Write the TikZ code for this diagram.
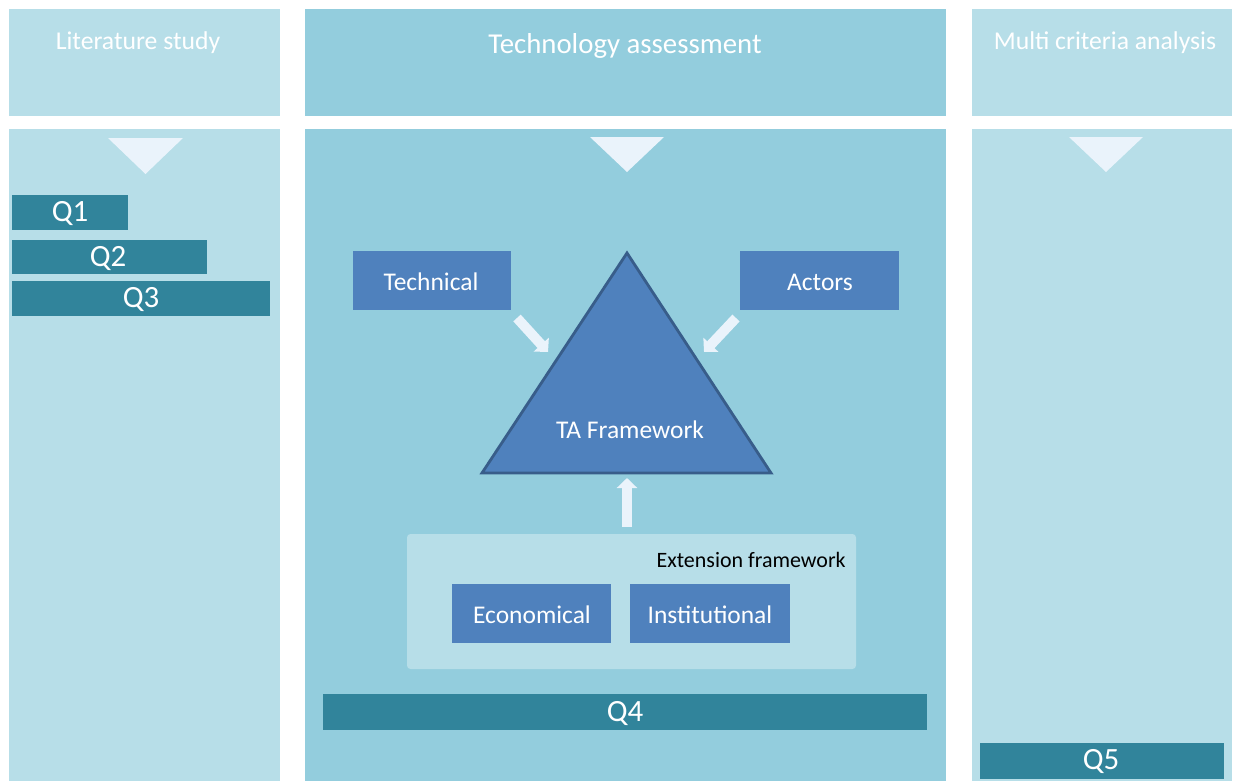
\documentclass[tikz,border=0pt]{standalone}
\usepackage{fontspec}
\setmainfont{Carlito}
\usetikzlibrary{arrows.meta}
\definecolor{colLight}{HTML}{B7DEE8}
\definecolor{colMid}{HTML}{93CDDD}
\definecolor{colQ}{HTML}{31849B}
\definecolor{colBlue}{HTML}{4F81BD}
\definecolor{colEdge}{HTML}{385D8A}
\definecolor{colPale}{HTML}{EAF3FB}
\begin{document}
\begin{tikzpicture}[x=0.02cm,y=-0.02cm,
  hdrtxt/.style={text=white,font=\fontsize{14.6}{17}\selectfont,inner sep=0pt},
  qtxt/.style={text=white,font=\fontsize{17.6}{20}\selectfont,inner sep=0pt},
  boxtxt/.style={text=white,font=\fontsize{14.5}{17}\selectfont,inner sep=0pt},
  blockarrow/.style={draw=colPale,line width=0.2cm,-{Triangle[length=0.2cm,width=0.4cm]}},
  downtri/.style={fill=colPale}]
\useasboundingbox (0,0) rectangle (1234,781);
\fill[white] (0,0) rectangle (1234,781);
% columns
\fill[colLight] (9,9) rectangle (280,116);
\fill[colLight] (9,129) rectangle (280,781);
\fill[colMid] (305,9) rectangle (946,116);
\fill[colMid] (305,129) rectangle (946,781);
\fill[colLight] (972,9) rectangle (1232,116);
\fill[colLight] (972,129) rectangle (1232,781);
% headers
\node[hdrtxt] (hlit) at (138,43) {Literature study};
\node[hdrtxt,font=\fontsize{16.4}{19}\selectfont] (hta) at (625,46) {Technology\ assessment};
\node[hdrtxt] (hmca) at (1105,43) {Multi criteria analysis};
% down triangles
\fill[downtri] (108,138) -- (183,138) -- (145.5,174) -- cycle;
\fill[downtri] (590,137) -- (664,137) -- (627,172) -- cycle;
\fill[downtri] (1069,137) -- (1143,137) -- (1106,172) -- cycle;
% Q bars
\fill[colQ] (12,195) rectangle (128,230);
\node[qtxt] (q1) at (70,214) {Q1};
\fill[colQ] (12,240) rectangle (207,274);
\node[qtxt] (q2) at (108,259) {Q2};
\fill[colQ] (12,281) rectangle (270,316);
\node[qtxt] (q3) at (141,300) {Q3};
\fill[colQ] (323,694) rectangle (927,730);
\node[qtxt] (q4) at (625,714) {Q4};
\fill[colQ] (980,743) rectangle (1224,779);
\node[qtxt] (q5) at (1101,762) {Q5};
% blue boxes
\fill[colBlue] (353,251) rectangle (511,310);
\node[boxtxt] (tech) at (431,282) {Technical};
\fill[colBlue] (740,251) rectangle (899,310);
\node[boxtxt] (act) at (820,282) {Actors};
% triangle
\draw[fill=colBlue,draw=colEdge,line width=1.6pt] (627,253) -- (771,473) -- (482,473) -- cycle;
\node[boxtxt] (ta) at (630,430) {TA Framework};
% extension framework
\fill[colLight,rounded corners=2pt] (407,534) rectangle (856,669);
\node[inner sep=0pt,anchor=east,font=\fontsize{12.5}{15}\selectfont] (ext) at (846,560) {Extension framework};
\fill[colBlue] (452,584) rectangle (611,643);
\node[boxtxt] (eco) at (532,615) {Economical};
\fill[colBlue] (630,584) rectangle (790,643);
\node[boxtxt] (inst) at (710,615) {Institutional};
% block arrows
\coordinate (a1s) at (517,318);
\coordinate (a1e) at (548,352);
\coordinate (a2s) at (736,318);
\coordinate (a2e) at (704,352);
\coordinate (a3s) at (627,527);
\coordinate (a3e) at (627,478);
\draw[blockarrow] (a1s) -- (a1e);
\draw[blockarrow] (a2s) -- (a2e);
\draw[blockarrow] (a3s) -- (a3e);
\end{tikzpicture}
\end{document}
